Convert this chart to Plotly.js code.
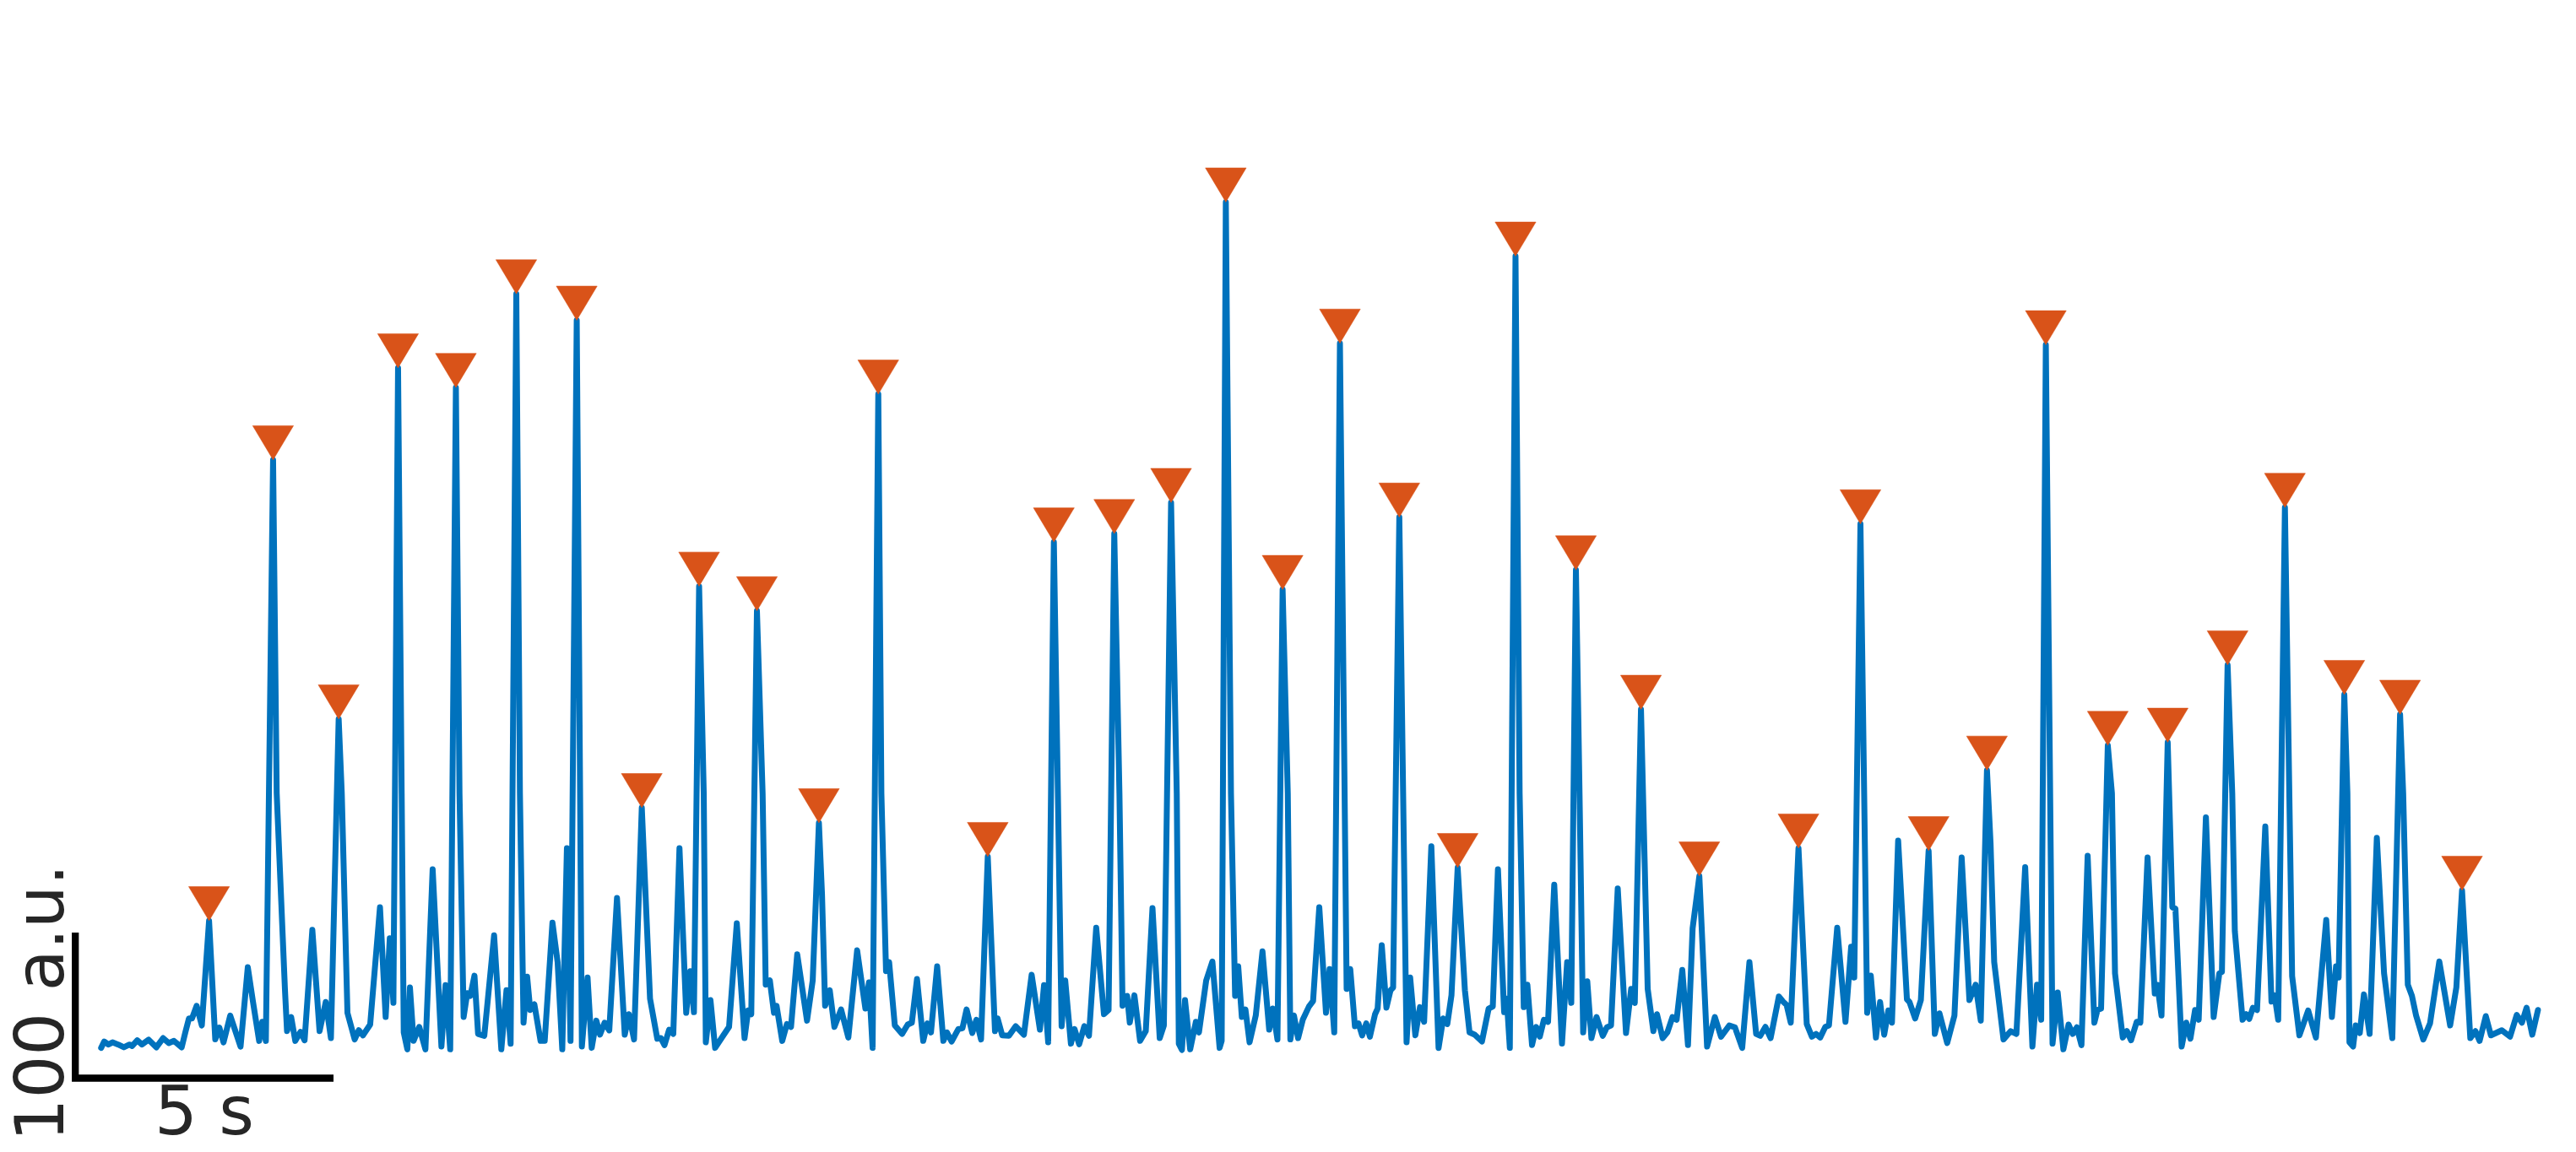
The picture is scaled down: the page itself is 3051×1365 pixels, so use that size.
<!DOCTYPE html>
<html>
<head>
<meta charset="utf-8">
<script src="https://cdn.plot.ly/plotly-3.0.1.min.js"></script>
<style>
  html, body { margin: 0; padding: 0; background: #ffffff; }
  #chart { width: 3051px; height: 1365px; }
  #chart .scatterlayer .trace:first-child path.js-line { stroke-linejoin: round; stroke-linecap: round; }
</style>
</head>
<body>
<div id="chart"></div>
<script>
// ---- Data (time in s, signal in a.u.) ----
const signalTime = [
  0.50,0.56,0.64,0.72,0.83,0.94,1.05,1.10,1.20,1.29,
  1.42,1.57,1.70,1.81,1.91,2.06,2.13,2.20,2.26,2.35,
  2.45,2.59,2.71,2.79,2.87,3.00,3.20,3.34,3.44,3.56,
  3.62,3.69,3.83,3.90,4.06,4.10,4.18,4.26,4.36,4.44,
  4.59,4.73,4.85,4.95,5.10,5.16,5.27,5.41,5.49,5.57,
  5.71,5.90,6.01,6.09,6.16,6.25,6.32,6.36,6.43,6.48,
  6.55,6.66,6.78,6.92,7.09,7.17,7.26,7.37,7.44,7.52,
  7.59,7.65,7.73,7.80,7.92,8.11,8.25,8.35,8.43,8.54,
  8.61,8.68,8.75,8.81,8.89,9.01,9.09,9.24,9.34,9.43,
  9.52,9.59,9.71,9.78,9.81,9.92,10.00,10.09,10.16,10.25,
  10.34,10.49,10.64,10.72,10.82,10.97,11.08,11.13,11.27,11.34,
  11.41,11.50,11.58,11.70,11.83,11.91,11.98,12.08,12.17,12.21,
  12.30,12.39,12.55,12.66,12.81,12.96,13.03,13.09,13.20,13.31,
  13.37,13.45,13.53,13.58,13.69,13.78,13.86,13.98,14.17,14.28,
  14.40,14.46,14.52,14.61,14.70,14.83,14.97,15.14,15.30,15.37,
  15.44,15.55,15.61,15.70,15.76,15.87,16.01,16.12,16.20,16.30,
  16.42,16.50,16.57,16.69,16.81,16.88,16.97,17.10,17.18,17.26,
  17.37,17.45,17.54,17.67,17.81,17.86,17.95,18.08,18.21,18.37,
  18.52,18.68,18.76,18.84,18.95,19.04,19.10,19.17,19.28,19.35,
  19.44,19.54,19.63,19.77,19.92,20.01,20.12,20.22,20.28,20.37,
  20.42,20.51,20.62,20.73,20.86,21.00,21.08,21.22,21.33,21.37,
  21.43,21.49,21.59,21.70,21.76,21.90,22.02,22.16,22.20,22.28,
  22.38,22.46,22.52,22.59,22.66,22.74,22.86,22.99,23.12,23.19,
  23.28,23.38,23.48,23.53,23.60,23.68,23.77,23.89,23.97,24.09,
  24.22,24.29,24.38,24.49,24.57,24.62,24.69,24.78,24.85,24.92,
  25.00,25.07,25.17,25.22,25.30,25.39,25.47,25.52,25.64,25.72,
  25.78,25.85,25.95,26.04,26.12,26.26,26.40,26.49,26.57,26.65,
  26.77,26.91,27.00,27.10,27.24,27.37,27.45,27.55,27.67,27.72,
  27.78,27.89,27.97,28.05,28.12,28.21,28.29,28.36,28.44,28.52,
  28.64,28.79,28.89,28.97,29.06,29.13,29.20,29.28,29.36,29.46,
  29.58,29.66,29.74,29.87,30.03,30.13,30.20,30.32,30.36,30.45,
  30.56,30.63,30.74,30.83,30.93,31.01,31.12,31.23,31.32,31.45,
  31.60,31.75,31.87,32.03,32.14,32.28,32.42,32.55,32.63,32.73,
  32.83,32.99,33.07,33.14,33.22,33.37,33.53,33.63,33.71,33.79,
  33.89,33.96,34.12,34.28,34.39,34.45,34.57,34.65,34.70,34.77,
  34.87,34.95,35.03,35.11,35.18,35.30,35.47,35.52,35.63,35.74,
  35.89,36.01,36.10,36.25,36.39,36.53,36.68,36.80,36.90,37.02,
  37.09,37.16,37.34,37.48,37.59,37.76,37.90,37.99,38.07,38.16,
  38.25,38.29,38.39,38.50,38.60,38.68,38.76,38.85,38.97,39.10,
  39.16,39.23,39.36,39.44,39.50,39.65,39.73,39.81,39.92,39.99,
  40.13,40.27,40.32,40.40,40.52,40.61,40.67,40.79,40.88,40.96,
  41.05,41.12,41.26,41.41,41.52,41.57,41.68,41.77,41.82,41.97,
  42.04,42.10,42.17,42.25,42.41,42.53,42.59,42.66,42.79,42.88,
  42.93,43.07,43.24,43.39,43.59,43.70,43.78,43.83,43.94,44.00,
  44.04,44.11,44.16,44.24,44.32,44.43,44.57,44.71,44.87,45.02,
  45.08,45.17,45.25,45.33,45.47,45.60,45.78,45.99,46.11,46.22,
  46.38,46.48,46.56,46.68,46.78,46.99,47.15,47.28,47.38,47.47,
  47.58,47.69
];
const signalValue = [
  20.8,25.2,23.1,24.6,23.1,21.2,23.1,22.1,26.0,23.1,
  26.4,21.2,27.5,24.1,25.6,21.2,31.4,41.0,41.0,49.7,
  36.2,108.1,26.6,34.7,24.6,43.0,21.7,76.2,52.6,25.6,
  38.7,25.6,424.7,195.6,60.6,32.3,42.0,25.6,31.8,26.0,
  101.9,32.3,52.3,27.5,246.7,195.6,44.9,26.6,32.9,29.4,
  36.8,117.4,42.0,96.1,51.7,487.9,195.6,31.4,19.8,62.3,
  25.6,35.2,19.8,143.5,21.7,63.9,19.8,474.4,195.6,42.0,
  58.4,56.5,70.4,30.4,29.1,98.1,19.8,60.4,23.7,538.7,
  195.6,38.1,69.7,46.8,50.7,25.6,25.6,106.8,79.7,19.8,
  158.0,25.6,520.6,195.6,21.7,69.1,20.8,39.5,29.9,38.1,
  32.8,123.8,29.9,43.9,26.6,185.8,79.7,54.6,27.1,27.5,
  22.7,33.3,30.4,158.0,44.9,73.5,45.3,337.9,195.6,24.6,
  53.6,20.8,29.4,35.2,106.4,27.5,46.5,43.9,321.0,195.6,
  64.2,67.1,44.9,49.7,25.6,37.2,35.2,85.1,39.5,67.1,
  175.4,126.1,49.7,60.4,35.2,47.2,27.9,87.8,47.8,65.8,
  20.8,469.8,195.6,73.5,79.7,36.2,30.4,36.8,38.1,68.1,
  25.6,37.6,31.4,76.8,25.6,31.4,25.2,33.7,34.3,47.2,
  31.0,40.1,26.6,152.2,32.3,41.0,29.4,29.1,35.7,29.9,
  71.0,33.3,63.9,24.6,368.3,195.6,35.7,67.1,23.7,33.7,
  23.3,35.7,29.1,103.3,43.9,46.8,374.0,195.6,49.7,56.5,
  38.1,56.9,25.6,32.3,116.8,27.5,36.2,395.4,195.6,23.7,
  19.4,53.6,19.8,38.7,31.4,67.1,80.1,20.8,25.6,601.8,
  195.6,56.5,76.8,42.0,47.2,24.6,43.0,87.1,33.3,47.8,
  26.6,335.6,195.6,26.6,43.0,27.5,40.1,49.2,53.0,117.4,
  44.9,74.9,31.4,504.8,195.6,61.3,74.9,35.7,37.6,29.4,
  37.6,28.5,43.9,47.8,91.3,48.4,60.4,62.3,385.3,195.6,
  24.6,69.1,29.4,48.8,38.7,159.3,20.8,41.0,37.2,56.9,
  144.6,60.4,31.4,29.9,25.2,47.8,49.2,143.5,45.3,54.6,
  20.8,564.6,195.6,48.8,64.2,22.7,35.2,28.5,40.1,38.7,
  132.9,23.7,79.7,51.7,349.1,195.6,31.4,66.5,27.5,42.0,
  29.1,34.9,36.2,130.3,31.0,61.3,51.7,253.3,195.6,61.3,
  32.3,43.9,27.5,31.4,42.0,40.1,74.3,22.7,102.9,138.8,
  21.7,42.0,28.5,36.2,34.9,20.8,79.7,30.4,29.1,35.2,
  27.5,56.1,52.6,50.3,38.1,158.0,37.2,28.5,30.4,27.9,
  35.2,36.2,103.3,38.7,90.3,69.1,380.7,195.6,44.9,70.4,
  27.9,52.3,29.9,46.5,38.1,163.2,54.2,52.3,41.0,53.6,
  156.2,30.4,44.5,24.1,43.0,151.6,53.6,64.2,39.5,211.5,
  160.9,79.7,26.6,32.3,30.4,145.0,21.7,64.2,40.1,503.7,
  195.6,23.7,58.8,19.8,36.8,30.4,34.9,22.7,152.8,38.1,
  46.8,47.8,228.5,195.6,72.0,27.9,32.3,26.0,38.7,38.1,
  151.6,58.1,64.2,43.0,230.7,117.4,116.4,21.7,38.1,27.1,
  46.8,40.1,179.2,42.0,72.0,72.9,283.8,195.6,101.0,40.1,
  43.9,40.7,48.4,46.8,172.9,52.6,56.9,40.1,392.0,195.6,
  70.0,29.4,46.5,27.9,108.7,42.0,76.8,69.1,263.5,195.6,
  24.6,21.7,36.2,31.0,57.5,30.4,165.1,72.0,27.5,249.9,
  195.6,64.2,56.5,43.0,26.6,37.6,80.1,36.2,62.3,129.0,
  27.5,32.3,25.6,42.6,29.4,32.9,28.5,43.4,38.1,48.4,
  29.9,46.8
];

// Detected peaks (time in s, value in a.u.)
const peakTime = [
  2.59,3.83,5.10,6.25,7.37,8.54,9.71,10.97,12.08,13.20,
  14.40,15.55,17.67,18.95,20.12,21.22,22.28,23.38,24.49,25.64,
  26.77,27.89,29.06,30.32,31.45,33.37,34.57,35.89,37.02,38.16,
  39.36,40.52,41.68,42.79,43.94,45.02,46.22
];
const peakValue = [
  108.1,424.7,246.7,487.9,474.4,538.7,520.6,185.8,337.9,321.0,
  175.4,469.8,152.2,368.3,374.0,395.4,601.8,335.6,504.8,385.3,
  144.6,564.6,349.1,253.3,138.8,158.0,380.7,156.2,211.5,503.7,
  228.5,230.7,283.8,392.0,263.5,249.9,129.0
];

// Scale bar: 5 s horizontal, 100 a.u. vertical
const scaleBarTime = [0, 0, 5];
const scaleBarValue = [100, 0, 0];
const scaleBarLabels = { time: "5 s", value: "100 a.u." };

// ---- Layout / styling ----
const W = 3051, H = 1365;
const xRange = [-1.4585, 48.427];
const yRange = [-50.72, 740.58];
const pxPerSec = W / (xRange[1] - xRange[0]);
const pxPerAU = H / (yRange[1] - yRange[0]);

// inverted triangle markers whose tip sits on the peak
const triHalfWidthPx = 24.2, triHeightPx = 40.5;
const triX = [], triY = [];
for (let i = 0; i < peakTime.length; i++) {
  const hw = triHalfWidthPx / pxPerSec, h = triHeightPx / pxPerAU;
  triX.push(peakTime[i] - hw, peakTime[i] + hw, peakTime[i], peakTime[i] - hw, null);
  triY.push(peakValue[i] + h, peakValue[i] + h, peakValue[i], peakValue[i] + h, null);
}

const blue = '#0072BD', orange = '#D95319', textColor = '#262626';
const font = 'DejaVu Sans, Liberation Sans, sans-serif';

const traces = [
  {
    x: signalTime, y: signalValue, type: 'scatter', mode: 'lines',
    line: { color: blue, width: 7 }, hoverinfo: 'skip'
  },
  {
    x: triX, y: triY, type: 'scatter', mode: 'lines', fill: 'toself',
    fillcolor: orange, line: { color: orange, width: 0.5 }, hoverinfo: 'skip'
  },
  {
    x: scaleBarTime, y: scaleBarValue, type: 'scatter', mode: 'lines',
    line: { color: '#000000', width: 8.3 }, hoverinfo: 'skip'
  }
];

const layout = {
  width: W, height: H,
  margin: { l: 0, r: 0, t: 0, b: 0, pad: 0 },
  paper_bgcolor: '#ffffff', plot_bgcolor: '#ffffff',
  showlegend: false,
  xaxis: { range: xRange, visible: false, fixedrange: true },
  yaxis: { range: yRange, visible: false, fixedrange: true },
  annotations: [
    {
      text: scaleBarLabels.time, x: (scaleBarTime[1] + scaleBarTime[2]) / 2, y: 0,
      xref: 'x', yref: 'y', xanchor: 'center', yanchor: 'top', yshift: 10,
      showarrow: false, font: { family: font, size: 80, color: textColor }
    },
    {
      text: scaleBarLabels.value, x: 0, y: (scaleBarValue[0] + scaleBarValue[1]) / 2,
      xref: 'x', yref: 'y', xanchor: 'center', yanchor: 'middle',
      xshift: -42, yshift: 3, textangle: -90,
      showarrow: false, font: { family: font, size: 80, color: textColor }
    }
  ]
};

Plotly.newPlot('chart', traces, layout, { displayModeBar: false, staticPlot: true });
</script>
</body>
</html>
